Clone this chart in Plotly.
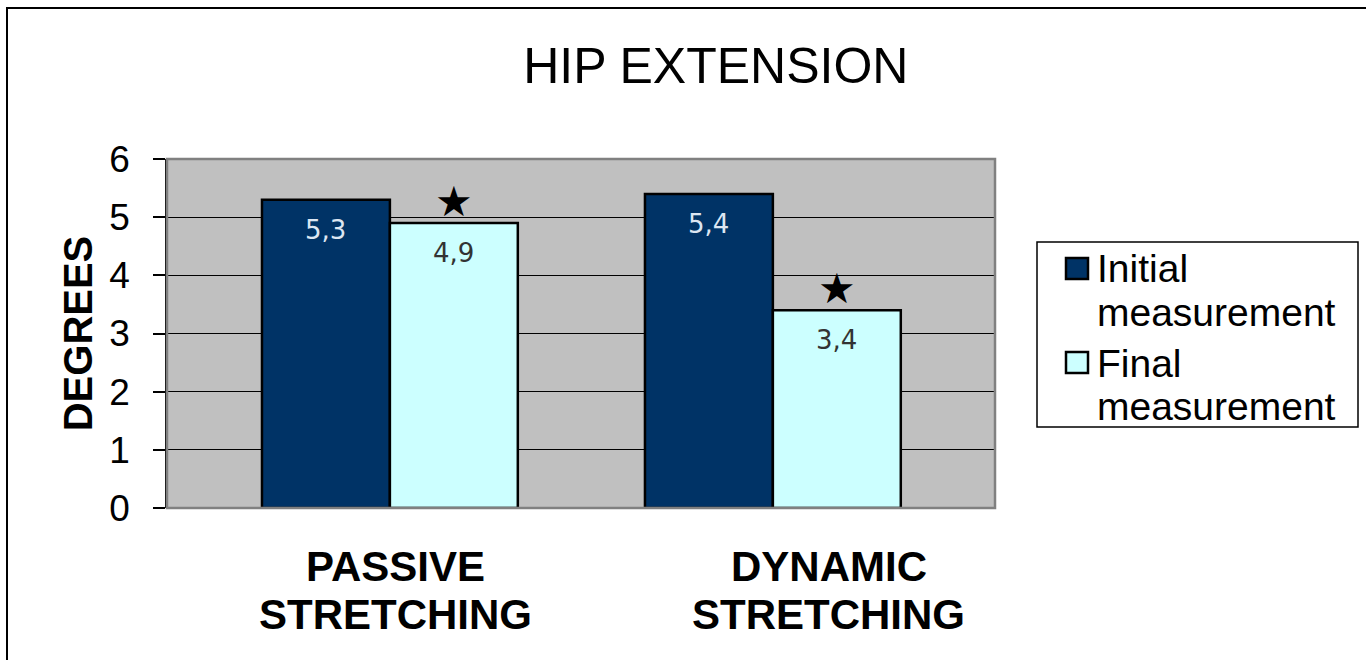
import plotly.graph_objects as go

# ---- data ----
categories = [["PASSIVE", "STRETCHING"], ["DYNAMIC", "STRETCHING"]]
series_names = [["Initial", "measurement"], ["Final", "measurement"]]
initial_values = [5.3, 5.4]
final_values = [4.9, 3.4]
final_significant = [True, True]
y_ticks = [0, 1, 2, 3, 4, 5, 6]

# ---- style ----
DARK = "#003366"
LIGHT = "#CCFFFF"
FRAME_GRAY = "#808080"
FONT = "Arial, Liberation Sans, sans-serif"
LABEL_FONT = "DejaVu Sans, Verdana, sans-serif"

W, H = 1366, 660
ML, MR, MT, MB = 167, 371, 159, 152
BARGAP = 0.332
X_RANGE = [-0.582, 1.58]


# page pixel -> paper coordinates (for decorations outside the plot area)
def px_x(p):
    return (p - ML) / (W - ML - MR)


def px_y(p):
    return (H - MB - p) / (H - MT - MB)


fig = go.Figure()

xs = list(range(len(categories)))
fig.add_trace(go.Bar(x=xs, y=initial_values, name=" ".join(series_names[0]),
                     marker=dict(color=DARK, line=dict(color="black", width=2.5))))
fig.add_trace(go.Bar(x=xs, y=final_values, name=" ".join(series_names[1]),
                     marker=dict(color=LIGHT, line=dict(color="black", width=2.5))))

bar_w = (1 - BARGAP) / 2
annotations = []
for i, (a, b) in enumerate(zip(initial_values, final_values)):
    xa, xb = i - bar_w / 2, i + bar_w / 2
    annotations.append(dict(x=xa, y=a, xref="x", yref="y", text=f"{a:.1f}".replace(".", ","),
                            showarrow=False, yanchor="top", yshift=-13,
                            font=dict(family=LABEL_FONT, size=26, color="#DCE6F2")))
    annotations.append(dict(x=xb, y=b, xref="x", yref="y", text=f"{b:.1f}".replace(".", ","),
                            showarrow=False, yanchor="top", yshift=-13,
                            font=dict(family=LABEL_FONT, size=26, color="#333333")))
    if final_significant[i]:
        annotations.append(dict(x=xb, y=b, xref="x", yref="y", text="★",
                                showarrow=False, yanchor="bottom", yshift=-5,
                                font=dict(family="DejaVu Sans", size=42, color="black")))

# category labels under the groups, one annotation per line
for i, (lines, shift) in enumerate(zip(categories, [6, 56])):
    for k, line in enumerate(lines):
        annotations.append(dict(x=i, y=0, xref="x", yref="y", text=f"<b>{line}</b>",
                                showarrow=False, yanchor="middle", xshift=shift,
                                yshift=-(58 + 48 * k),
                                font=dict(family=FONT, size=42, color="black")))

shapes = [
    # plot-area frame
    dict(type="rect", xref="paper", yref="paper", x0=0, y0=0, x1=1, y1=1,
         line=dict(color=FRAME_GRAY, width=2.5), layer="above"),
    # outer chart frame
    dict(type="rect", xref="paper", yref="paper",
         x0=px_x(7), y0=px_y(700), x1=px_x(1400), y1=px_y(8),
         line=dict(color="black", width=2), fillcolor="rgba(0,0,0,0)", layer="above"),
    # legend box
    dict(type="rect", xref="paper", yref="paper",
         x0=px_x(1037), y0=px_y(427), x1=px_x(1358), y1=px_y(242),
         line=dict(color="black", width=1.5), fillcolor="white", layer="above"),
]

# legend swatches and texts
legend_rows = [(258, 268, 312), (352, 363, 406)]
for (sw_top, y1, y2), names, col in zip(legend_rows, series_names, [DARK, LIGHT]):
    shapes.append(dict(type="rect", xref="paper", yref="paper",
                       x0=px_x(1066), x1=px_x(1088), y0=px_y(sw_top + 21), y1=px_y(sw_top),
                       line=dict(color="black", width=2.5), fillcolor=col, layer="above"))
    for txt, yc in zip(names, (y1, y2)):
        annotations.append(dict(x=px_x(1095), y=px_y(yc), xref="paper", yref="paper",
                                text=txt, showarrow=False, xanchor="left", yanchor="middle",
                                font=dict(family=FONT, size=39, color="black")))

fig.update_layout(
    width=W, height=H,
    margin=dict(l=ML, r=MR, t=MT, b=MB, pad=0),
    paper_bgcolor="white",
    plot_bgcolor="#C0C0C0",
    barmode="group",
    bargap=BARGAP,
    bargroupgap=0,
    showlegend=False,
    title=dict(text="HIP EXTENSION", x=0.524, xref="container", xanchor="center",
               y=1 - 65 / H, yref="container", yanchor="middle",
               font=dict(family=FONT, size=50, color="black")),
    xaxis=dict(range=X_RANGE, showticklabels=False, showgrid=False, zeroline=False,
               showline=False, ticks=""),
    yaxis=dict(range=[0, 6], tickvals=y_ticks, showgrid=True, gridcolor="black", gridwidth=1,
               zeroline=False, showline=True, linecolor="black", linewidth=1.5,
               ticks="outside", ticklen=12, tickcolor="black", tickwidth=1.5,
               ticklabelstandoff=16,
               tickfont=dict(family=FONT, size=37, color="black"),
               title=dict(text="<b>DEGREES</b>", standoff=4,
                          font=dict(family=FONT, size=40, color="black"))),
    annotations=annotations,
    shapes=shapes,
)

fig.write_html("out.html")
